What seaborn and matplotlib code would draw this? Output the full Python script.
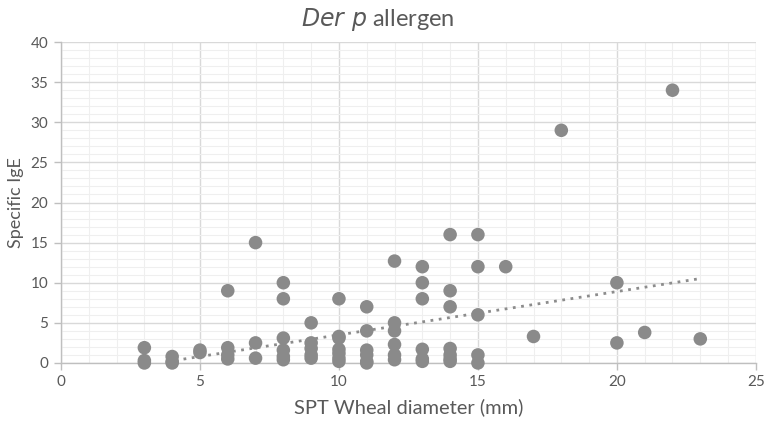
import numpy as np
import pandas as pd
import matplotlib
matplotlib.use("Agg")
import matplotlib.pyplot as plt
import seaborn as sns
from matplotlib.ticker import MultipleLocator

# Wheal diameter (mm) and specific IgE
wheal = [3, 3, 3,
         4, 4, 4,
         5, 5,
         6, 6, 6, 6,
         7, 7, 7,
         8, 8, 8, 8, 8, 8,
         9, 9, 9, 9, 9,
         10, 10, 10, 10, 10, 10, 10,
         11, 11, 11, 11, 11, 11,
         12, 12, 12, 12, 12, 12,
         13, 13, 13, 13, 13, 13,
         14, 14, 14, 14, 14, 14, 14,
         15, 15, 15, 15, 15,
         16, 17, 18, 20, 20, 21, 22, 23]
ige = [1.9, 0.3, 0.0,
       0.8, 0.2, 0.0,
       1.6, 1.3,
       9.0, 1.9, 1.0, 0.5,
       15.0, 2.5, 0.6,
       10.0, 8.0, 3.1, 1.6, 0.8, 0.4,
       5.0, 2.5, 1.8, 1.0, 0.6,
       8.0, 3.3, 3.1, 1.7, 1.2, 0.6, 0.2,
       7.0, 4.0, 1.6, 1.0, 0.2, 0.0,
       12.7, 5.0, 4.0, 2.3, 1.0, 0.4,
       12.0, 10.0, 8.0, 1.7, 0.5, 0.2,
       16.0, 9.0, 7.0, 1.8, 1.0, 0.5, 0.2,
       16.0, 12.0, 6.0, 1.0, 0.0,
       12.0, 3.3, 29.0, 10.0, 2.5, 3.8, 34.0, 3.0]

# Linear trendline as shown on the chart (slope, intercept)
trend_slope = 0.54
trend_intercept = -1.9

df = pd.DataFrame({"SPT Wheal diameter (mm)": wheal, "Specific IgE": ige})

sns.set_theme(style="white")
plt.rcParams["font.family"] = ["Lato", "DejaVu Sans"]
txt = "#595959"

fig = plt.figure(figsize=(7.67, 4.25), dpi=100)
ax = fig.add_axes([0.0795, 0.146, 0.906, 0.755])

xs = np.linspace(min(wheal), max(wheal), 50)
ys = trend_slope * xs + trend_intercept
keep = ys >= 0
ax.plot(xs[keep], ys[keep], linestyle=(0, (1, 2)), color="#8c8c8c",
        linewidth=2, zorder=2)

sns.scatterplot(data=df, x="SPT Wheal diameter (mm)", y="Specific IgE", ax=ax,
                s=95, color="#8a8a8a", edgecolor="none", zorder=3,
                clip_on=False)

ax.set_xlim(0, 25)
ax.set_ylim(0, 40)
ax.xaxis.set_major_locator(MultipleLocator(5))
ax.yaxis.set_major_locator(MultipleLocator(5))
ax.xaxis.set_minor_locator(MultipleLocator(1))
ax.yaxis.set_minor_locator(MultipleLocator(1))
ax.grid(which="major", color="#d9d9d9", linewidth=1)
ax.grid(which="minor", color="#efefef", linewidth=0.8)
ax.set_axisbelow(True)

for s in ["top", "right"]:
    ax.spines[s].set_visible(False)
for s in ["left", "bottom"]:
    ax.spines[s].set_color("#bfbfbf")
    ax.spines[s].set_linewidth(1)

ax.tick_params(which="major", direction="out", length=5, width=1,
               color="#bfbfbf", labelcolor=txt, labelsize=11, pad=4)
ax.tick_params(which="minor", length=0)
ax.tick_params(axis="x", bottom=True)
ax.tick_params(axis="y", left=True)

ax.set_xlabel("SPT Wheal diameter (mm)", fontsize=14.5, color=txt, labelpad=6)
ax.set_ylabel("Specific IgE", fontsize=13, color=txt, labelpad=5)
fig.text(0.493, 0.953, r"$\it{Der\ p}$ allergen", fontsize=17, color=txt,
         ha="center", va="center")

fig.savefig("out.png", dpi=100)
